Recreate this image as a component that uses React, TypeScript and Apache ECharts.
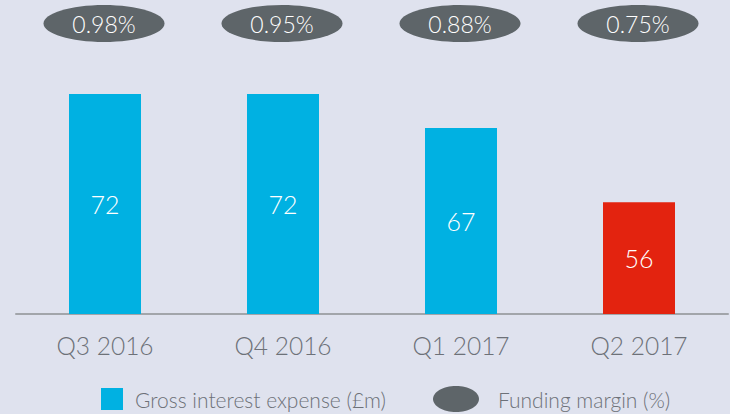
import React, { useEffect, useRef } from "react";
import * as echarts from "echarts";

const categories = ["Q3 2016", "Q4 2016", "Q1 2017", "Q2 2017"];
const interestExpense = [72, 72, 67, 56];
const fundingMargin = [0.98, 0.95, 0.88, 0.75];
const legendLabels = ["Gross interest expense (£m)", "Funding margin (%)"];

const CYAN = "#00b1e2";
const RED = "#e3230f";
const GREY_ELLIPSE = "#5e6569";
const TEXT = "#6d7178";
const BG = "#dfe2ee";
const FONT = "Lato, 'Open Sans', sans-serif";

export default function App() {
  const ref = useRef<HTMLDivElement>(null);
  useEffect(() => {
    if (!ref.current) return;
    const chart = echarts.init(ref.current, undefined, { renderer: "svg" });
    chart.setOption({
      animation: false,
      backgroundColor: BG,
      grid: { left: 16, right: 2, top: 40, bottom: 100, containLabel: false },
      xAxis: {
        type: "category",
        data: categories,
        axisLine: { show: true, lineStyle: { color: "#a2a5aa", width: 2 } },
        axisTick: { show: false },
        axisLabel: { fontSize: 24.5, color: TEXT, fontFamily: FONT, fontWeight: 300, margin: 19 },
      },
      yAxis: {
        type: "value",
        min: 39.5,
        max: 80,
        show: false,
        splitLine: { show: false },
      },
      series: [
        {
          type: "bar",
          barWidth: 72,
          data: interestExpense.map((v, i) => ({
            value: v,
            itemStyle: { color: i === interestExpense.length - 1 ? RED : CYAN },
          })),
          label: {
            show: true,
            position: "inside",
            color: "#ffffff",
            fontSize: 25,
            fontFamily: FONT,
            fontWeight: 300,
          },
        },
        {
          type: "custom",
          data: fundingMargin.map((m, i) => [i, m]),
          encode: { x: 0, y: 1 },
          clip: false,
          renderItem: (params: any, api: any) => {
            const x = api.coord([api.value(0), 60])[0];
            const y = params.coordSys.y - 16.5;
            const m = api.value(1);
            return {
              type: "group",
              children: [
                {
                  type: "ellipse",
                  shape: { cx: x - 1, cy: y, rx: 60.5, ry: 18.5 },
                  style: { fill: GREY_ELLIPSE },
                },
                {
                  type: "text",
                  x: x - 1,
                  y: y,
                  style: {
                    text: m.toFixed(2) + "%",
                    fill: "#ffffff",
                    fontSize: 23,
                    fontFamily: FONT,
                    fontWeight: 300,
                    align: "center",
                    verticalAlign: "middle",
                  },
                },
              ],
            };
          },
        },
      ],
      graphic: [
        { type: "rect", shape: { x: 101, y: 388, width: 22, height: 22 }, style: { fill: CYAN } },
        {
          type: "text",
          x: 135,
          y: 399,
          style: {
            text: legendLabels[0],
            fill: TEXT,
            fontSize: 21,
            fontFamily: FONT,
            fontWeight: 300,
            verticalAlign: "middle",
          },
        },
        { type: "ellipse", shape: { cx: 456, cy: 399, rx: 23, ry: 13 }, style: { fill: GREY_ELLIPSE } },
        {
          type: "text",
          x: 498,
          y: 399,
          style: {
            text: legendLabels[1],
            fill: TEXT,
            fontSize: 21,
            fontFamily: FONT,
            fontWeight: 300,
            verticalAlign: "middle",
          },
        },
      ],
    });
    return () => chart.dispose();
  }, []);
  return (
    <div
      ref={ref}
      style={{ position: "absolute", left: 0, top: 0, width: 730, height: 414 }}
    />
  );
}
